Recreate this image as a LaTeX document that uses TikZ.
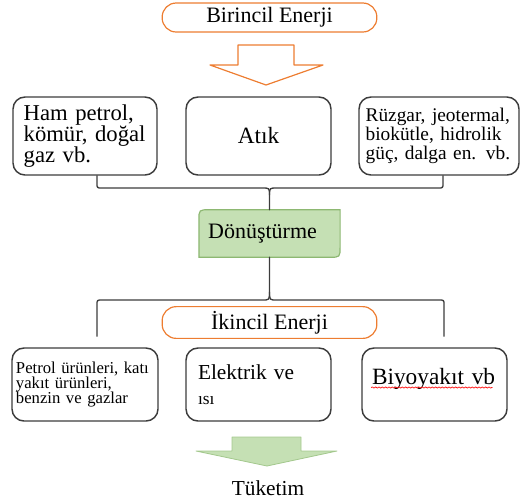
\documentclass[tikz,border=0pt]{standalone}
\usepackage{fontspec}
\setmainfont{Liberation Serif}
\usetikzlibrary{calc,backgrounds,decorations.pathmorphing}
\definecolor{enorange}{HTML}{ED7D31}
\definecolor{engreen}{HTML}{C5E0B4}
\definecolor{engreenline}{HTML}{8DB872}
\definecolor{engray}{HTML}{3C3C3C}
\newcommand{\fsz}[2]{\fontsize{#1pt}{#2pt}\selectfont}

\begin{document}
\begin{tikzpicture}[x=0.75pt, y=-0.75pt, line join=round, line cap=round,
	srcbox/.style={draw=engray, line width=1.1pt, rounded corners=9pt, minimum height=58.5pt, align=left},
	outbox/.style={srcbox, minimum height=54.75pt},
	pill/.style={draw=enorange, line width=0.9pt, rounded corners=10.5pt, minimum width=161pt, minimum height=21.75pt, font=\fsz{16.5}{18}},
	brace/.style={draw=engray, line width=1pt}]
	\useasboundingbox (0,0) rectangle (520,501);
	\node[pill] (be) at (269.5,17.5) {Birincil Enerji};
	\draw[enorange, line width=0.9pt] (238,45) -- (294,45) -- (294,65) -- (323,65) -- (266,85) -- (210,65) -- (238,65) -- cycle;
	\node[srcbox, text width=92pt, inner xsep=8pt, font=\fsz{17}{16}] (b1) at (85,136) {Ham petrol,\\kömür, doğal\\gaz vb.};
	\node[srcbox, minimum width=108.75pt, font=\fsz{17.5}{18}] (b2) at (258.5,136) {Atık};
	\node[srcbox, text width=110pt, inner xsep=5pt, font=\fsz{14.5}{14.25}] (b3) at (439,136) {Rüzgar, jeotermal,\\biokütle, hidrolik\\güç, dalga en. vb.};
	\node[font=\fsz{16.5}{18}, minimum height=35.25pt, text width=92pt, inner xsep=6.75pt, align=left] (d) at (269.5,233.5) {Dönüştürme};
	\begin{scope}[on background layer]
		\draw[engreenline, fill=engreen, line width=0.9pt] (d.south west) -- ([yshift=-8pt]d.north west) .. controls (d.north west) .. ([xshift=8pt]d.north west) -- (d.north east) -- ([yshift=8pt]d.south east) .. controls (d.south east) .. ([xshift=-8pt]d.south east) -- cycle;
	\end{scope}
	\node[pill] (ie) at (269.5,322.5) {İkincil Enerji};
	\node[outbox, text width=103.5pt, inner xsep=3pt, font=\fsz{12.5}{11.5}] (b4) at (85,384.5) {Petrol ürünleri, katı\\yakıt ürünleri,\\benzin ve gazlar};
	\node[outbox, text width=90.75pt, inner xsep=9pt, font=\fsz{16}{16}] (b5) at (258.5,384.5) {Elektrik ve\\[3pt]{\fsz{13}{14}ısı}};
	\node[outbox, text width=93.75pt, inner xsep=7.5pt, text height=12pt, text depth=12.5pt, font=\fsz{17.5}{18}] (b6) at (434.5,384.5) {Biyoyakıt vb};
	\draw[red, line width=0.5pt, decorate, decoration={snake, amplitude=0.5pt, segment length=2.5pt}] ($(b6.west)+(10,3)$) -- ++(121,0);
	\draw[brace] ($(b1.south)+(12,0)$) -- (97,183) .. controls (97,188) .. (102,188) -- (262,188) .. controls (269.5,188) .. (269.5,195) -- (d.north);
	\draw[brace] ($(b3.south)+(4,0)$) -- (443,183) .. controls (443,188) .. (438,188) -- (277,188) .. controls (269.5,188) .. (269.5,195);
	\draw[brace] (d.south) -- (269.5,292) .. controls (269.5,300) .. (262,300) -- (102,300) .. controls (97,300) .. (97,305) -- ($(b4.north)+(12,-11)$);
	\draw[brace] (269.5,292) .. controls (269.5,300) .. (277,300) -- (439,300) .. controls (444,300) .. (444,305) -- ($(b6.north)+(9.5,-11)$);
	\draw[engreenline!60!engreen, fill=engreen, line width=0.6pt] (232,437) -- (301,437) -- (301,451) -- (337,451) -- (267,466) -- (196,451) -- (232,451) -- cycle;
	\node[font=\fsz{16}{18}] (tk) at (268,488) {Tüketim};
\end{tikzpicture}
\end{document}
